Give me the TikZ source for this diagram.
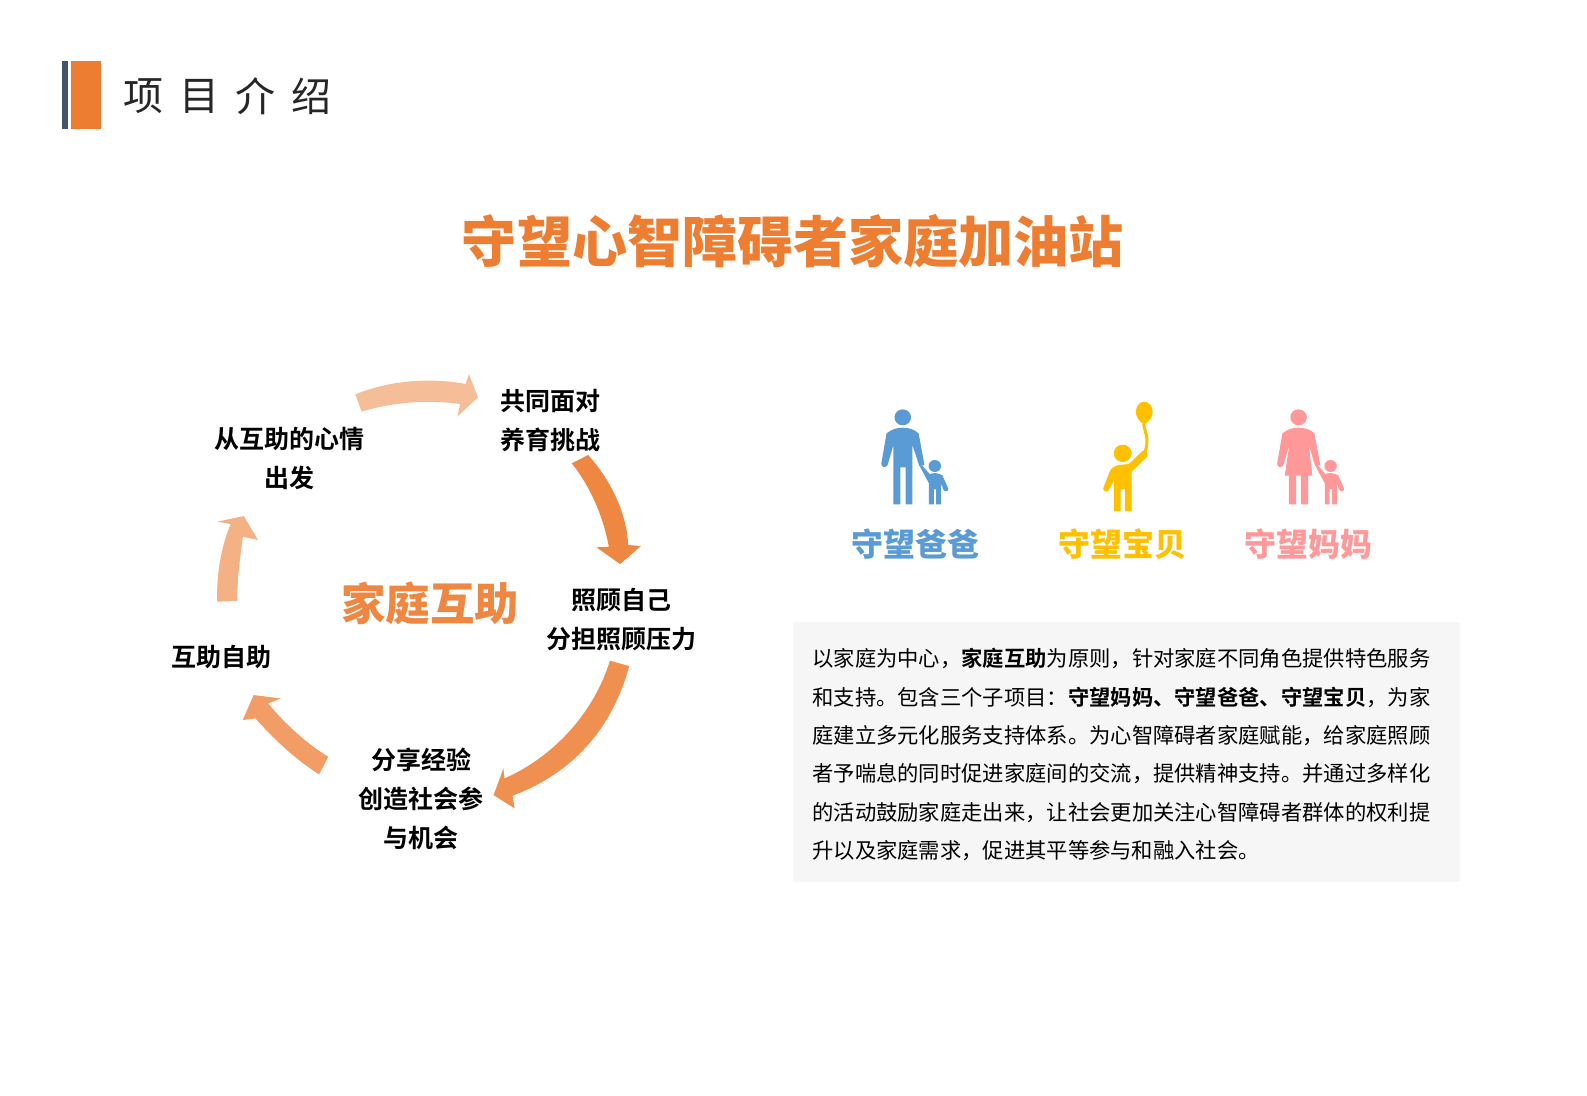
\documentclass[tikz,border=0pt]{standalone}
\usepackage{fontspec}
\setmainfont{Noto Sans CJK SC}[BoldFont={Noto Sans CJK SC Bold}]
\newfontfamily\heavyfont{Noto Sans CJK SC Black}
\XeTeXlinebreaklocale "zh"
\XeTeXlinebreakskip=0pt plus 1pt
\definecolor{navy}{HTML}{44546A}
\definecolor{orng}{HTML}{ED7D31}
\definecolor{dadc}{HTML}{5B9BD5}
\definecolor{babyc}{HTML}{FFC000}
\definecolor{momc}{HTML}{FF9999}
\definecolor{panel}{HTML}{F6F6F6}
\tikzset{
  cyc/.style={font=\fontsize{12.5pt}{19.5pt}\selectfont\bfseries, align=center, inner sep=0pt, text=black},
  sublabel/.style={font=\fontsize{16pt}{18pt}\selectfont\heavyfont, inner sep=0pt},
  headch/.style={font=\fontsize{20pt}{22pt}\selectfont, inner sep=0pt, text=black!85, anchor=center},
  arrowmap/.style={shift={(150,360)}, x=0.1818pt, y=-0.1667pt},
  iconmap/.style={shift={(840,390)}, x=0.1724pt, y=-0.1667pt},
}
\newcommand{\kidfig}{%
  \fill (275,228) circle[radius=18];
  \fill (230,226) -- (238,226) -- (260,252) .. controls (270,248) and (285,248) .. (297,256) -- (314,296) .. controls (316,304) and (303,307) .. (300,299) -- (293,280) -- (293,343) -- (279,343) -- (279,298) -- (272,298) -- (272,343) -- (258,343) -- (258,280) -- cycle;
}
\begin{document}
\begin{tikzpicture}[x=0.5pt,y=-0.5pt]
\useasboundingbox (0,0) rectangle (1587,1096);
\fill[white] (0,0) rectangle (1587,1096);
% header
\fill[navy] (62,61) rectangle (68,129);
\fill[orng] (71,61) rectangle (101,129);
\node[headch] (hd1) at (143.5,96) {项};
\node[headch] (hd2) at (199.5,96) {目};
\node[headch] (hd3) at (255.5,96) {介};
\node[headch] (hd4) at (311.5,96) {绍};
% title
\node[font=\fontsize{27.6pt}{30pt}\selectfont\heavyfont, text=orng, inner sep=0pt] (title) at (793,241) {守望心智障碍者家庭加油站};
% cycle arrows
\begin{scope}[arrowmap]
\fill[color=orng!50!white] (565,103) .. controls (650,65) and (760,50) .. (868,72) -- (877,42) -- (902,112) -- (845,170) -- (853,132) .. controls (760,118) and (660,128) .. (582,155) -- cycle;
\fill[color=orng!92!white] (1160,310) -- (1205,285) .. controls (1275,370) and (1312,470) .. (1315,555) -- (1350,558) -- (1293,612) -- (1228,562) -- (1262,560) .. controls (1245,460) and (1205,370) .. (1160,310) -- cycle;
\fill[color=orng!85!white] (1265,902) -- (1318,918) .. controls (1270,1110) and (1160,1240) .. (997,1307) -- (1003,1345) -- (945,1305) -- (972,1225) -- (975,1255) .. controls (1110,1190) and (1220,1060) .. (1265,902) -- cycle;
\fill[color=orng!75!white] (490,1190) -- (465,1243) .. controls (390,1190) and (335,1130) .. (290,1075) -- (255,1080) -- (285,1005) -- (360,1015) -- (325,1030) .. controls (370,1090) and (430,1150) .. (490,1190) -- cycle;
\fill[color=orng!60!white] (185,725) -- (240,722) .. controls (240,640) and (250,580) .. (255,530) -- (297,540) -- (258,468) -- (185,485) -- (222,492) .. controls (195,560) and (182,650) .. (185,725) -- cycle;
\end{scope}
% cycle labels
\node[cyc] (c1) at (289,459) {从互助的心情\\出发};
\node[cyc] (c2) at (550.5,420.5) {共同面对\\养育挑战};
\node[cyc] (c3) at (621,620) {照顾自己\\分担照顾压力};
\node[cyc] (c4) at (421,799) {分享经验\\创造社会参\\与机会};
\node[cyc] (c5) at (221.5,657) {互助自助};
\node[font=\fontsize{22.2pt}{24pt}\selectfont\heavyfont, text=orng!92!white, inner sep=0pt] (center) at (430,603) {家庭互助};
% icons
\begin{scope}[iconmap, color=dadc]
\fill (182,82) circle[radius=24];
\fill (135,130) .. controls (150,118) and (165,113) .. (182,113) .. controls (200,113) and (215,118) .. (228,130) -- (245,225) -- (230,228) -- (210,165) -- (210,343) -- (190,343) -- (190,232) -- (175,232) -- (175,343) -- (155,343) -- (155,165) -- (138,225) .. controls (134,235) and (118,232) .. (120,220) -- cycle;
\kidfig
\end{scope}
\begin{scope}[iconmap, color=babyc]
\fill (882,35) .. controls (898,35) and (907,52) .. (907,67) .. controls (907,82) and (895,95) .. (886,101) -- (878,101) .. controls (868,93) and (858,80) .. (858,67) .. controls (858,52) and (867,35) .. (882,35) -- cycle;
\draw[line width=1.5pt] (881,100) .. controls (881,125) and (900,140) .. (884,188);
\fill (820,190) circle[radius=26];
\fill (808,225) -- (838,222) -- (878,182) .. controls (886,178) and (896,190) .. (890,200) -- (846,245) -- (846,363) -- (826,363) -- (826,298) -- (814,298) -- (814,363) -- (794,363) -- (794,272) -- (780,300) .. controls (775,310) and (760,303) .. (764,293) -- (782,245) .. controls (787,234) and (797,228) .. (808,225) -- cycle;
\end{scope}
\begin{scope}[iconmap, color=momc]
\fill (1330,82) circle[radius=24];
\fill (1283,130) .. controls (1298,118) and (1313,113) .. (1330,113) .. controls (1348,113) and (1363,118) .. (1376,130) -- (1393,225) -- (1378,228) -- (1360,165) -- (1370,257) -- (1358,257) -- (1358,343) -- (1337,343) -- (1337,257) -- (1323,257) -- (1323,343) -- (1302,343) -- (1302,257) -- (1290,257) -- (1303,165) -- (1286,225) .. controls (1282,235) and (1266,232) .. (1268,220) -- cycle;
\begin{scope}[xshift=1148*0.1724pt]
\kidfig
\end{scope}
\end{scope}
% sublabels
\node[sublabel, text=dadc] (s1) at (915,544.5) {守望爸爸};
\node[sublabel, text=babyc] (s2) at (1122,544.5) {守望宝贝};
\node[sublabel, text=momc] (s3) at (1308,544.5) {守望妈妈};
% panel
\node[fill=panel, minimum width=333.5pt, minimum height=130pt, inner sep=0pt, anchor=north west] (panelbox) at (793,622) {};
\node[anchor=north west, inner sep=0pt, text width=309pt, align=justify, text=black, font=\fontsize{10.65pt}{19.2pt}\selectfont] (body) at (812,648)
{以家庭为中心，\textbf{家庭互助}为原则，针对家庭不同角色提供特色服务\linebreak
和支持。包含三个子项目：\textbf{守望妈妈、守望爸爸、守望宝贝}，为家\linebreak
庭建立多元化服务支持体系。为心智障碍者家庭赋能，给家庭照顾\linebreak
者予喘息的同时促进家庭间的交流，提供精神支持。并通过多样化\linebreak
的活动鼓励家庭走出来，让社会更加关注心智障碍者群体的权利提\linebreak
升以及家庭需求，促进其平等参与和融入社会。};
\end{tikzpicture}
\end{document}
